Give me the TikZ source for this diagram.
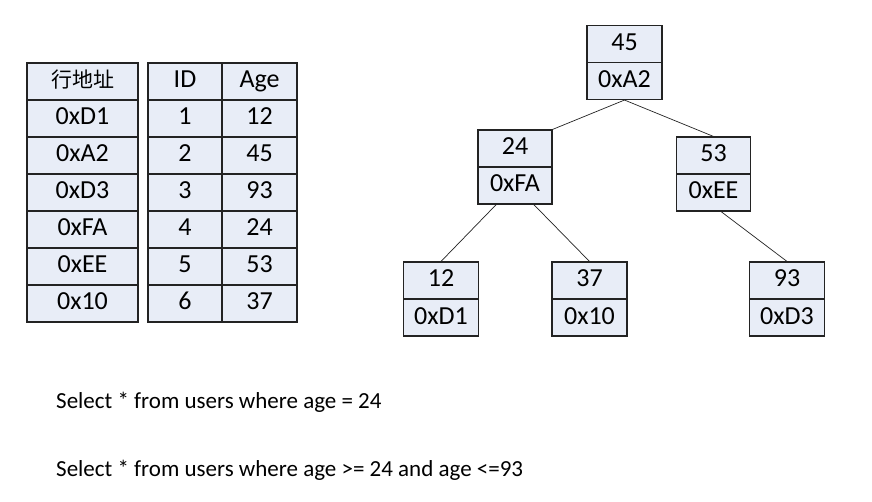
\documentclass[tikz,border=0pt]{standalone}
\usepackage{fontspec}
\setmainfont{Carlito}
\newfontfamily\cjk{Noto Sans CJK SC}
\usepackage{tikz}
\usetikzlibrary{calc}
\definecolor{cellblue}{RGB}{232,237,247}
\definecolor{linegray}{RGB}{35,35,35}

\begin{document}
\begin{tikzpicture}[x=1pt,y=-1pt,
  cell/.style={draw=linegray,fill=cellblue,line width=1.1pt,inner sep=0pt,
    minimum height=37pt,text height=18pt,text depth=5pt,
    font=\fontsize{26}{26}\selectfont},
  wide/.style={cell,minimum width=111pt},
  narrow/.style={cell,minimum width=75pt},
  keybox/.style={cell,minimum width=75pt},
  edge/.style={draw=linegray,line width=0.7pt},
  query/.style={anchor=base west,inner sep=0pt,font=\fontsize{23}{23}\selectfont}]
  \useasboundingbox[fill=white] (0,0) rectangle (872,502);

  % left table
  \node[wide] (h0) at (82.5,81.5) {\cjk\fontsize{21}{21}\selectfont 行地址};
  \node[wide] (h1) at (82.5,118.5) {0xD1};
  \node[wide] (h2) at (82.5,155.5) {0xA2};
  \node[wide] (h3) at (82.5,192.5) {0xD3};
  \node[wide] (h4) at (82.5,229.5) {0xFA};
  \node[wide] (h5) at (82.5,266.5) {0xEE};
  \node[wide] (h6) at (82.5,303.5) {0x10};

  \node[narrow,minimum width=74pt] (i0) at (185,81.5) {ID};
  \node[narrow,minimum width=74pt] (i1) at (185,118.5) {1};
  \node[narrow,minimum width=74pt] (i2) at (185,155.5) {2};
  \node[narrow,minimum width=74pt] (i3) at (185,192.5) {3};
  \node[narrow,minimum width=74pt] (i4) at (185,229.5) {4};
  \node[narrow,minimum width=74pt] (i5) at (185,266.5) {5};
  \node[narrow,minimum width=74pt] (i6) at (185,303.5) {6};

  \node[narrow] (g0) at (259.5,81.5) {Age};
  \node[narrow] (g1) at (259.5,118.5) {12};
  \node[narrow] (g2) at (259.5,155.5) {45};
  \node[narrow] (g3) at (259.5,192.5) {93};
  \node[narrow] (g4) at (259.5,229.5) {24};
  \node[narrow] (g5) at (259.5,266.5) {53};
  \node[narrow] (g6) at (259.5,303.5) {37};

  % tree
  \node[keybox] (k45) at (624.5,44) {45};
  \node[keybox] (a45) at (624.5,81) {0xA2};
  \node[keybox,minimum width=74pt] (k24) at (515,148.5) {24};
  \node[keybox,minimum width=74pt] (a24) at (515,185.5) {0xFA};
  \node[keybox,minimum width=74pt] (k53) at (713.5,155.5) {53};
  \node[keybox,minimum width=74pt] (a53) at (713.5,192.5) {0xEE};
  \node[keybox] (k12) at (441,280.5) {12};
  \node[keybox] (a12) at (441,317.5) {0xD1};
  \node[keybox] (k37) at (589.5,280.5) {37};
  \node[keybox] (a37) at (589.5,317.5) {0x10};
  \node[keybox] (k93) at (787,280.5) {93};
  \node[keybox] (a93) at (787,317.5) {0xD3};

  \draw[edge] (a45.south) -- (k24.north east);
  \draw[edge] (a45.south) -- (k53.north);
  \draw[edge] ($(a24.south west)!0.25!(a24.south east)$) -- (k12.north);
  \draw[edge] ($(a24.south west)!0.75!(a24.south east)$) -- (k37.north);
  \draw[edge] ($(a53.south west)!0.6!(a53.south east)$) -- (k93.north);

  \node[query] (q1) at (56,408) {Select * from users where age = 24};
  \node[query] (q2) at (56,476) {Select * from users where age >= 24 and age <=93};
\end{tikzpicture}
\end{document}
